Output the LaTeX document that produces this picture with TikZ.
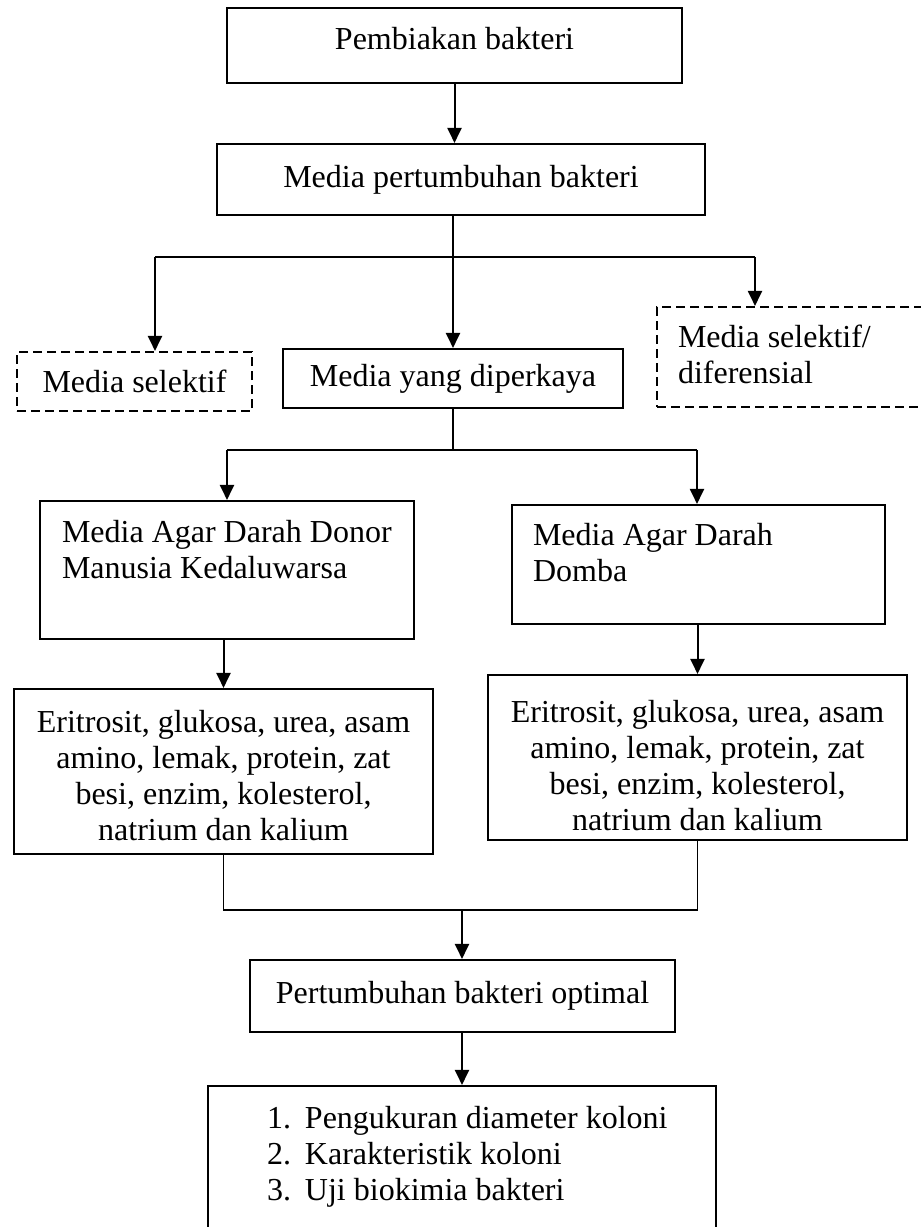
\documentclass[tikz,border=0pt]{standalone}
\usepackage{fontspec}
\setmainfont{Liberation Serif}
\usetikzlibrary{arrows.meta}
\newcommand{\fs}{\fontsize{32}{36}\selectfont}
\newcommand{\bxt}[5]{\parbox[c][#1][t]{#2}{#3\rule{0pt}{#4}#5}}
\newcommand{\itm}[2]{\mbox{\makebox[38pt][l]{#1}#2}}
\tikzset{
  box/.style={draw, line width=2.1pt, inner sep=0pt, font=\fs, rectangle},
  dbox/.style={box, dash pattern=on 9pt off 5pt},
  arr/.style={line width=2pt, -{Triangle[length=15pt,width=14pt]}},
  ln/.style={line width=1.5pt},
}
\begin{document}
\begin{tikzpicture}[x=1pt,y=-1pt]
\useasboundingbox (0,0) rectangle (921,1227);
% boxes
\node[box, minimum width=455pt, minimum height=75pt, text depth=14pt] (n1) at (454.5,45.5) {Pembiakan bakteri};
\node[box, minimum width=488pt, minimum height=71pt] (n2) at (461,179.5) {Media pertumbuhan bakteri};
\node[dbox, minimum width=235pt, minimum height=59pt] (n3) at (134.5,381.5) {Media selektif};
\node[box, minimum width=340pt, minimum height=59pt] (n4) at (453,378.5) {Media yang diperkaya};
\node[dbox, inner xsep=21pt] (n5) at (803.5,357) {\bxt{100pt}{251pt}{\raggedright}{40pt}{Media selektif/\\diferensial}};
\node[box, inner xsep=22pt] (n6) at (227,570) {\bxt{138pt}{330pt}{\raggedright}{41pt}{\mbox{Media Agar Darah Donor}\\\mbox{Manusia Kedaluwarsa}}};
\node[box, inner xsep=21pt] (n7) at (698.5,564.5) {\bxt{119pt}{331pt}{\raggedright}{40pt}{Media Agar Darah\\Domba}};
\node[box] (n8) at (223.5,771.5) {\bxt{165pt}{419pt}{\centering}{43pt}{Eritrosit, glukosa, urea, asam\\amino, lemak, protein, zat\\besi, enzim, kolesterol,\\natrium dan kalium}};
\node[box] (n9) at (697.5,757.5) {\bxt{165pt}{419pt}{\centering}{47pt}{Eritrosit, glukosa, urea, asam\\amino, lemak, protein, zat\\besi, enzim, kolesterol,\\natrium dan kalium}};
\node[box, minimum width=425pt, minimum height=72pt] (n10) at (462.5,996) {Pertumbuhan bakteri optimal};
\node[box, inner xsep=59pt] (n11) at (462,1168) {\bxt{164pt}{390pt}{\raggedright}{42pt}{\itm{1.}{Pengukuran diameter koloni}\\\itm{2.}{Karakteristik koloni}\\\itm{3.}{Uji biokimia bakteri}}};
% connectors
\coordinate (b1) at (155,257);
\coordinate (b2) at (755,257);
\coordinate (b3) at (227,450);
\coordinate (b4) at (697,450);
\coordinate (j1) at (462,910);
\draw[arr] (n1.south) -- (n2.north -| n1.south);
\draw[ln] (n2.south -| n4.north) -- (b1 -| n4.north);
\draw[ln] (b1) -- (b2);
\draw[arr] (b1) -- (b1 |- n3.north);
\draw[arr] (b1 -| n4.north) -- (n4.north);
\draw[arr] (b2) -- (b2 |- n5.north);
\draw[ln] (n4.south) -- (b3 -| n4.south);
\draw[ln] (b3) -- (b4);
\draw[arr] (b3) -- (b3 |- n6.north);
\draw[arr] (b4) -- (b4 |- n7.north);
\draw[arr] (n6.south -| n8.north) -- (n8.north);
\draw[arr] (n7.south -| n9.north) -- (n9.north);
\draw[ln] (n8.south) -- (j1 -| n8.south) -- (j1 -| n9.south) -- (n9.south);
\draw[arr] (j1) -- (j1 |- n10.north);
\draw[arr] (n10.south -| n11.north) -- (n11.north);
\end{tikzpicture}
\end{document}
